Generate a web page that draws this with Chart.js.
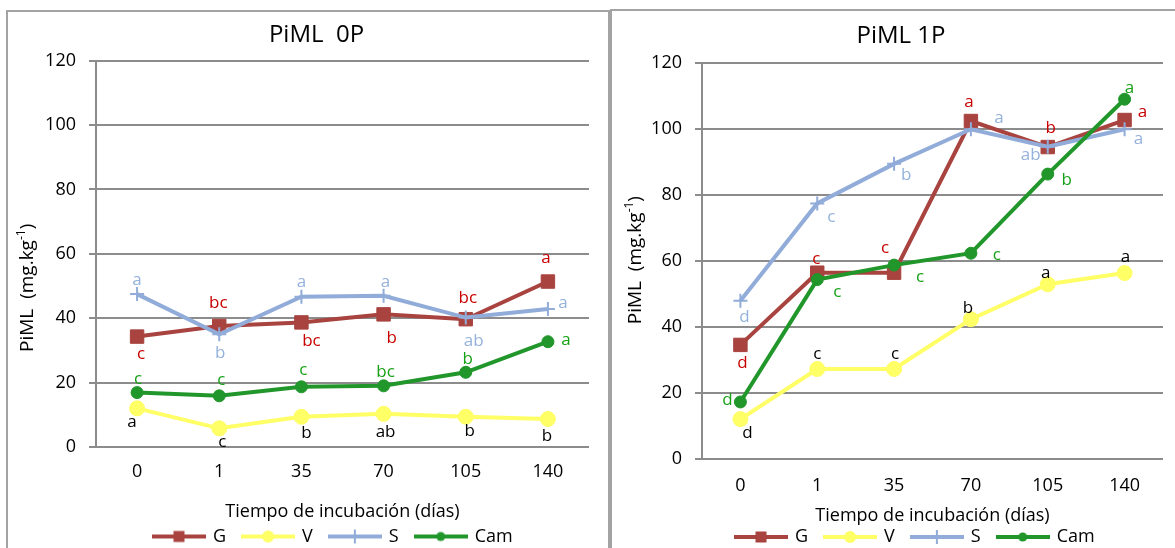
<!DOCTYPE html>
<html>
<head>
<meta charset="utf-8">
<script src="https://cdn.jsdelivr.net/npm/chart.js@4.4.1/dist/chart.umd.min.js"></script>
<style>
  html, body { margin: 0; padding: 0; background: #fff; width: 1175px; height: 548px; overflow: hidden; }
  .panel { position: absolute; border: 2px solid #a3a3a3; box-sizing: border-box; background: #fff; }
  #panelL { left: 6px; top: 10px; width: 604px; height: 560px; }
  #panelR { left: 610px; top: 9px; width: 590px; height: 560px; }
  canvas { position: absolute; }
  #cL { left: 8px; top: 12px; }
  #cR { left: 612px; top: 11px; }
</style>
</head>
<body>
<div class="panel" id="panelL"></div>
<div class="panel" id="panelR"></div>
<canvas id="cL" width="600" height="536"></canvas>
<canvas id="cR" width="563" height="537"></canvas>
<script>
// Incubation days (categories) and series names
const days = ['0', '1', '35', '70', '105', '140'];
const seriesNames = ['G', 'V', 'S', 'Cam'];
const yTicks = [0, 20, 40, 60, 80, 100, 120];

// PiML 0P (mg/kg)
const g0   = [34.3, 37.6, 38.7, 41.2, 39.7, 51.4];
const v0   = [12.0, 5.8, 9.4, 10.3, 9.4, 8.7];
const s0   = [47.5, 35.0, 46.7, 47.0, 40.2, 42.9];
const cam0 = [16.9, 15.9, 18.7, 19.0, 23.2, 32.7];
const gLet0   = ['c', 'bc', 'bc', 'b', 'bc', 'a'];
const vLet0   = ['a', 'c', 'b', 'ab', 'b', 'b'];
const sLet0   = ['a', 'b', 'a', 'a', 'ab', 'a'];
const camLet0 = ['c', 'c', 'c', 'bc', 'b', 'a'];

// PiML 1P (mg/kg)
const g1   = [34.6, 56.5, 56.5, 102.5, 94.6, 102.8];
const v1   = [12.1, 27.3, 27.3, 42.4, 53.0, 56.4];
const s1   = [48.0, 77.5, 89.5, 100.0, 94.7, 100.0];
const cam1 = [17.3, 54.4, 58.8, 62.4, 86.4, 109.1];
const gLet1   = ['d', 'c', 'c', 'a', 'b', 'a'];
const vLet1   = ['d', 'c', 'c', 'b', 'a', 'a'];
const sLet1   = ['d', 'c', 'b', 'a', 'ab', 'a'];
const camLet1 = ['d', 'c', 'c', 'c', 'b', 'a'];

const FONT = '"Open Sans", "Liberation Sans", sans-serif';
Chart.defaults.font.family = FONT;
Chart.defaults.color = '#000';

// line / marker / letter styling per series (G, V, S, Cam)
const seriesStyle = [
  { color: '#a8433f', text: '#c80000', pointStyle: 'rect',   radius: 9.5, order: 3 },
  { color: '#ffff66', text: '#000000', pointStyle: 'circle', radius: 7.5, order: 2 },
  { color: '#91acd9', text: '#94b1dc', pointStyle: 'cross',  radius: 7,   order: 1 },
  { color: '#21962a', text: '#17a117', pointStyle: 'circle', radius: 6,   order: 0 }
];

// where each significance letter sits relative to its point [dx, dy]
const letterOffsets0 = [
  [[4, 18], [-1, -23], [10, 19], [8, 24], [2, -21], [-2, -23]],
  [[-5, 14], [3, 14], [5, 16], [2, 18], [4, 14], [-1, 17]],
  [[0, -14], [1, 19], [0, -15], [2, -14], [8, 24], [15, -6]],
  [[1, -13], [2, -16], [2, -17], [2, -14], [2, -13], [18, -2]]
];
const letterOffsets1 = [
  [[2, 18], [-1, -14], [-9, -25], [-2, -19], [3, -19], [18, -8]],
  [[7, 14], [0, -15], [1, -15], [-3, -11], [-2, -11], [1, -16]],
  [[4, 16], [14, 14], [12, 11], [28, -11], [-17, 8], [14, 10]],
  [[-13, -2], [20, 13], [26, 12], [26, 2], [19, 6], [5, -11]]
];

// legend symbol: line segment with the series marker in the middle
function legendIcon(st) {
  const c = document.createElement('canvas');
  c.width = 54; c.height = 18;
  const x = c.getContext('2d');
  x.strokeStyle = st.color; x.fillStyle = st.color; x.lineWidth = 4;
  x.beginPath(); x.moveTo(0, 9); x.lineTo(54, 9); x.stroke();
  if (st.pointStyle === 'rect') {
    x.fillRect(21.5, 3.5, 11, 11);
  } else if (st.pointStyle === 'circle') {
    x.beginPath(); x.arc(27, 9, st.radius - 1.5, 0, Math.PI * 2); x.fill();
  } else {
    x.lineWidth = 2;
    x.beginPath(); x.moveTo(27, 2); x.lineTo(27, 16); x.moveTo(20, 9); x.lineTo(34, 9); x.stroke();
  }
  return c;
}
const legendIcons = seriesStyle.map(legendIcon);

const letterPlugin = {
  id: 'letters',
  afterDatasetsDraw(chart, args, o) {
    const ctx = chart.ctx;
    ctx.save();
    ctx.font = o.size + 'px ' + FONT;
    ctx.textAlign = 'center';
    ctx.textBaseline = 'middle';
    chart.data.datasets.forEach((ds, i) => {
      chart.getDatasetMeta(i).data.forEach((pt, j) => {
        const off = o.offsets[i][j];
        ctx.fillStyle = seriesStyle[i].text;
        ctx.fillText(o.letters[i][j], pt.x + off[0], pt.y + off[1]);
      });
    });
    ctx.restore();
  }
};

// rotated y-axis title with a superscript exponent
const yTitlePlugin = {
  id: 'yTitle',
  afterDraw(chart, args, o) {
    const ctx = chart.ctx, a = chart.chartArea;
    ctx.save();
    ctx.translate(o.x, (a.top + a.bottom) / 2 + o.dy);
    ctx.rotate(-Math.PI / 2);
    const main = o.size + 'px ' + FONT;
    const small = Math.round(o.size * 0.62) + 'px ' + FONT;
    ctx.font = main;
    const w1 = ctx.measureText(o.text).width;
    const w3 = ctx.measureText(o.close).width;
    ctx.font = small;
    const w2 = ctx.measureText(o.sup).width;
    let x = -(w1 + w2 + w3) / 2;
    ctx.fillStyle = '#000';
    ctx.textBaseline = 'middle';
    ctx.font = main; ctx.fillText(o.text, x, 0); x += w1;
    ctx.font = small; ctx.fillText(o.sup, x, -o.size * 0.33); x += w2;
    ctx.font = main; ctx.fillText(o.close, x, 0);
    ctx.restore();
  }
};

// final placement of title and legend blocks
const placePlugin = {
  id: 'place',
  afterLayout(chart, args, o) {
    const t = chart.titleBlock;
    if (t) { t.left += o.titleDx; t.right += o.titleDx; }
    const lg = chart.legend;
    if (lg) {
      const p = lg.options.labels.padding;
      lg.left = o.legendX - p;
      lg.right = chart.width;
      lg.top = o.legendCy - p - o.legendFont / 2;
      lg.bottom = chart.height;
    }
  }
};

function buildChart(id, cfg) {
  const datasets = cfg.values.map((vals, i) => {
    const st = seriesStyle[i];
    return {
      label: seriesNames[i],
      data: vals,
      borderColor: st.color,
      backgroundColor: st.color,
      borderWidth: 4,
      pointStyle: st.pointStyle,
      pointRadius: st.radius,
      pointHoverRadius: st.radius,
      pointBorderColor: st.color,
      pointBackgroundColor: st.color,
      pointBorderWidth: st.pointStyle === 'cross' ? 2 : 1,
      order: st.order,
      tension: 0,
      fill: false,
      clip: false
    };
  });
  return new Chart(document.getElementById(id), {
    type: 'line',
    data: { labels: days, datasets },
    plugins: [letterPlugin, yTitlePlugin, placePlugin],
    options: {
      responsive: false,
      animation: false,
      events: [],
      layout: { padding: { left: 0, right: cfg.padRight, top: 0, bottom: 0 } },
      scales: {
        x: {
          offset: true,
          grid: { display: false, drawTicks: false },
          border: { display: false },
          ticks: { font: { size: 18 }, padding: cfg.xTickPad, color: '#000' },
          title: {
            display: true,
            text: 'Tiempo de incubación (días)',
            font: { size: 18 },
            color: '#000',
            padding: { top: 0, bottom: cfg.xTitlePad }
          },
          afterFit(scale) { scale.height = cfg.xHeight; }
        },
        y: {
          min: yTicks[0],
          max: yTicks[yTicks.length - 1],
          ticks: { stepSize: yTicks[1] - yTicks[0], font: { size: 18 }, padding: 13, color: '#000' },
          grid: { color: '#8c8c8c', lineWidth: 2, tickLength: 7, tickColor: '#8c8c8c', tickWidth: 2 },
          border: { display: true, color: '#8c8c8c', width: 2 },
          afterFit(scale) { scale.width = cfg.yWidth; }
        }
      },
      plugins: {
        title: {
          display: true,
          text: cfg.title,
          font: { size: 24, weight: 'normal' },
          color: '#000',
          padding: { top: cfg.titleTop, bottom: cfg.titleBottom }
        },
        legend: {
          position: 'bottom',
          align: 'start',
          maxHeight: 1,
          labels: {
            usePointStyle: true,
            pointStyleWidth: 50,
            padding: 17,
            font: { size: 18 },
            color: '#000',
            sort: (a, b) => a.datasetIndex - b.datasetIndex,
            generateLabels(chart) {
              const items = Chart.defaults.plugins.legend.labels.generateLabels(chart);
              items.forEach(it => { it.pointStyle = legendIcons[it.datasetIndex]; });
              return items;
            }
          }
        },
        tooltip: { enabled: false },
        letters: { size: 17, letters: cfg.letters, offsets: cfg.offsets },
        yTitle: { x: cfg.yTitleX, dy: cfg.yTitleDy, size: 19, text: 'PiML  (mg.kg', sup: '-1', close: ')' },
        place: { titleDx: cfg.titleDx, legendX: cfg.legendX, legendCy: cfg.legendCy, legendFont: 18 }
      }
    }
  });
}

buildChart('cL', {
  title: 'PiML  0P',
  values: [g0, v0, s0, cam0],
  letters: [gLet0, vLet0, sLet0, camLet0],
  offsets: letterOffsets0,
  padRight: 19, yWidth: 88, xHeight: 100,
  xTickPad: 14, xTitlePad: 24.5,
  titleTop: 9, titleBottom: 10.9, titleDx: 18,
  legendX: 146, legendCy: 524.5,
  yTitleX: 19.5, yTitleDy: 34
});

buildChart('cR', {
  title: 'PiML 1P',
  values: [g1, v1, s1, cam1],
  letters: [gLet1, vLet1, sLet1, camLet1],
  offsets: letterOffsets1,
  padRight: 12, yWidth: 90, xHeight: 88,
  xTickPad: 16, xTitlePad: 20.5,
  titleTop: 11, titleBottom: 12.5, titleDx: 13.5,
  legendX: 124, legendCy: 526,
  yTitleX: 23.5, yTitleDy: -1
});
</script>
</body>
</html>
